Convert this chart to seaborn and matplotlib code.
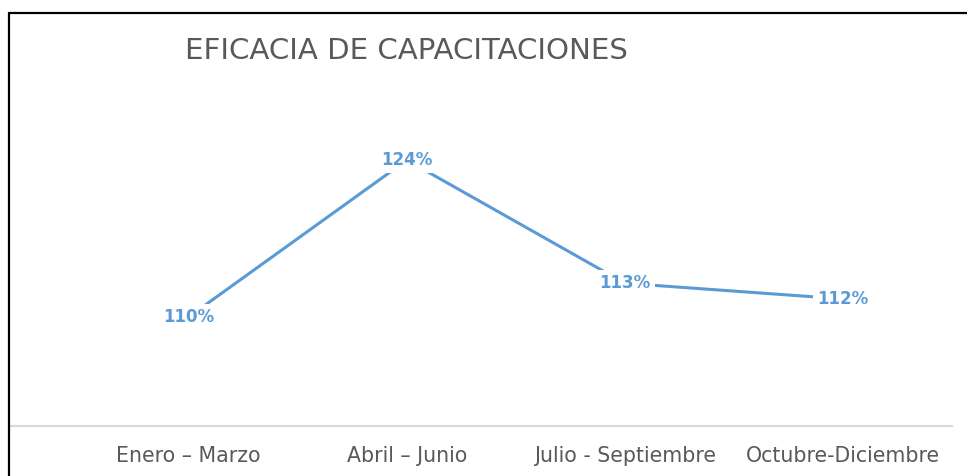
import matplotlib
matplotlib.use("Agg")
import matplotlib.pyplot as plt
import seaborn as sns
import pandas as pd

periodos = ["Enero – Marzo", "Abril – Junio", "Julio - Septiembre", "Octubre-Diciembre"]
eficacia = [110.0, 124.0, 113.0, 111.6]
titulo = "EFICACIA DE CAPACITACIONES"

df = pd.DataFrame({"periodo": periodos, "eficacia": eficacia})
df["pos"] = range(len(df))

sns.set_theme(style="white")
plt.rcParams["font.family"] = ["DejaVu Sans"]

fig = plt.figure(figsize=(9.67, 4.76), dpi=100)
ax = fig.add_axes([10 / 967, 1 - 425.5 / 476, 942 / 967, 336 / 476])

azul = "#5B9BD5"
sns.lineplot(data=df, x="pos", y="eficacia", color=azul, linewidth=2.2, ax=ax)

for _, r in df.iterrows():
    ax.text(r["pos"], r["eficacia"], f"{r['eficacia']:.0f}%", ha="center", va="center",
            color=azul, fontsize=12, fontweight="bold",
            bbox=dict(facecolor="white", edgecolor="none", pad=3))

ax.set_xlim(-0.82, 3.5)
ax.set_ylim(100.3, 130.3)
ax.set_xticks(df["pos"])
ax.set_xticklabels(df["periodo"], fontsize=14.8, color="#595959")
ax.set_yticks([])
ax.set_xlabel("")
ax.set_ylabel("")
ax.tick_params(axis="x", length=0, pad=15)
for s in ["top", "right", "left"]:
    ax.spines[s].set_visible(False)
ax.spines["bottom"].set_color("#D9D9D9")
ax.spines["bottom"].set_linewidth(1.5)

fig.text(185 / 967, 1 - 51 / 476, titulo, ha="left", va="center", fontsize=21.1,
         color="#595959")

# marco negro
fig.add_artist(plt.Line2D([9 / 967, 1.0], [1 - 12.5 / 476] * 2, color="black", linewidth=1.6))
fig.add_artist(plt.Line2D([9 / 967] * 2, [0, 1 - 12.5 / 476], color="black", linewidth=1.6))

fig.savefig("out.png", dpi=100)
